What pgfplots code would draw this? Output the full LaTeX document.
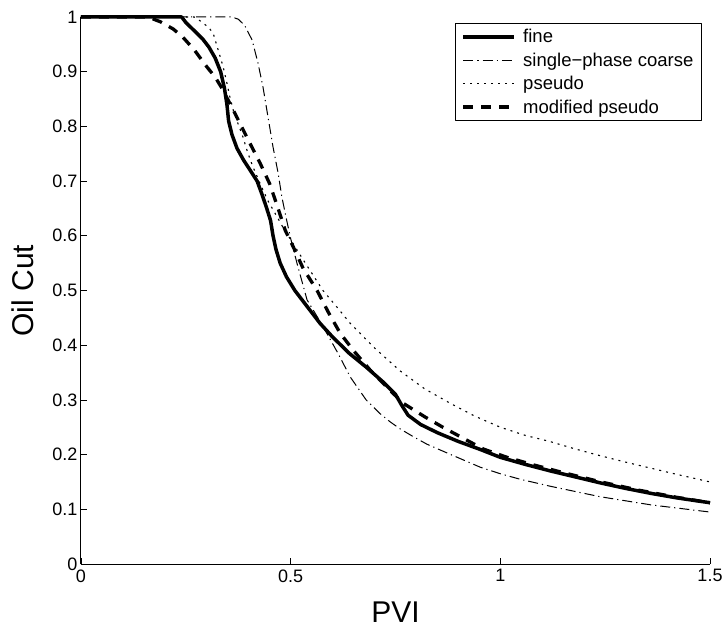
\documentclass[border=0pt]{standalone}
\usepackage{fontspec}
\setmainfont{Liberation Sans}
\usepackage{pgfplots}
\pgfplotsset{compat=1.18}
\begin{document}
\begin{tikzpicture}[x=1pt,y=1pt]
\begin{axis}[
  at={(0,0)}, anchor=south west,
  scale only axis, width=629pt, height=547pt,
  xmin=0, xmax=1.5, ymin=0, ymax=1,
  axis x line*=bottom, axis y line*=left,
  axis line style={-, line width=1pt},
  tick align=inside, major tick length=6pt,
  tick style={line width=0.8pt, black},
  xtick={0,0.5,1,1.5}, xticklabels={0,0.5,1,1.5},
  ytick={0,0.1,0.2,0.3,0.4,0.5,0.6,0.7,0.8,0.9,1},
  yticklabels={0,0.1,0.2,0.3,0.4,0.5,0.6,0.7,0.8,0.9,1},
  ticklabel style={font=\fontsize{18}{20}\selectfont},
  xticklabel style={yshift=-2pt},
  xlabel={PVI}, ylabel={Oil Cut},
  label style={font=\fontsize{30}{33}\selectfont},
  xlabel style={at={(axis description cs:0.5,-0.0878)}, anchor=center},
  ylabel style={at={(axis description cs:-0.0922,0.5)}, anchor=center, rotate=0},
  legend style={at={(rel axis cs:0.987,0.989)}, anchor=north east, draw=black, line width=0.8pt,
    font=\fontsize{18.5}{21}\selectfont, inner xsep=6pt, inner ysep=4pt, row sep=4.5pt,
    cells={anchor=west}},
  legend image code/.code={\draw[#1] (0pt,0pt) -- (51pt,0pt);},
  line join=round,
  clip=false,
]
\coordinate (O) at (rel axis cs:0,0);
\addplot[black, line width=3.5pt] coordinates {
(0,1)(0.24,1)(0.25,0.99)(0.27,0.975)(0.29,0.96)(0.305,0.945)(0.32,0.925)(0.333,0.9)(0.342,0.87)(0.348,0.84)(0.352,0.81)(0.36,0.785)(0.372,0.76)(0.388,0.738)(0.405,0.718)(0.42,0.70)(0.432,0.675)(0.443,0.65)(0.452,0.628)(0.458,0.60)(0.465,0.575)(0.475,0.55)(0.49,0.525)(0.51,0.50)(0.54,0.47)(0.57,0.44)(0.60,0.415)(0.64,0.385)(0.68,0.36)(0.72,0.333)(0.75,0.31)(0.765,0.29)(0.78,0.272)(0.81,0.255)(0.85,0.24)(0.90,0.224)(0.95,0.21)(1.0,0.195)(1.06,0.182)(1.12,0.17)(1.18,0.159)(1.24,0.148)(1.30,0.138)(1.36,0.129)(1.42,0.121)(1.5,0.112)};
\addlegendentry{\hspace{5pt}fine}
\addplot[black, line width=1pt, dash pattern=on 10pt off 4pt on 1.2pt off 4pt] coordinates {
(0,1)(0.36,1)(0.375,0.996)(0.39,0.985)(0.408,0.958)(0.422,0.916)(0.434,0.872)(0.446,0.817)(0.458,0.762)(0.47,0.715)(0.479,0.671)(0.49,0.63)(0.50,0.595)(0.515,0.55)(0.539,0.483)(0.565,0.45)(0.586,0.422)(0.613,0.385)(0.642,0.342)(0.68,0.30)(0.713,0.275)(0.737,0.26)(0.761,0.247)(0.792,0.233)(0.825,0.219)(0.873,0.203)(0.952,0.177)(1.0,0.165)(1.047,0.155)(1.12,0.142)(1.238,0.123)(1.36,0.108)(1.5,0.095)};
\addlegendentry{\hspace{5pt}single\symbol{"2212}phase coarse}
\addplot[black, line width=1.1pt, dash pattern=on 2pt off 5pt] coordinates {
(0,1)(0.27,1)(0.29,0.99)(0.305,0.98)(0.315,0.971)(0.327,0.94)(0.339,0.909)(0.348,0.879)(0.355,0.854)(0.363,0.83)(0.374,0.806)(0.386,0.781)(0.398,0.751)(0.41,0.726)(0.427,0.696)(0.445,0.665)(0.46,0.645)(0.482,0.615)(0.53,0.556)(0.577,0.50)(0.61,0.47)(0.642,0.44)(0.70,0.395)(0.761,0.353)(0.82,0.32)(0.88,0.294)(0.94,0.27)(1.0,0.25)(1.06,0.235)(1.118,0.224)(1.18,0.21)(1.238,0.198)(1.30,0.186)(1.36,0.175)(1.42,0.164)(1.5,0.150)};
\addlegendentry{\hspace{5pt}pseudo}
\addplot[black, line width=3.3pt, dash pattern=on 10pt off 8pt] coordinates {
(0,1)(0.16,1)(0.19,0.991)(0.22,0.978)(0.243,0.963)(0.27,0.94)(0.30,0.909)(0.32,0.89)(0.336,0.87)(0.363,0.83)(0.395,0.781)(0.427,0.733)(0.45,0.695)(0.47,0.65)(0.487,0.61)(0.506,0.58)(0.53,0.54)(0.563,0.50)(0.59,0.46)(0.618,0.422)(0.65,0.39)(0.689,0.355)(0.73,0.323)(0.768,0.294)(0.82,0.269)(0.863,0.25)(0.916,0.228)(0.96,0.21)(1.016,0.195)(1.08,0.181)(1.15,0.167)(1.24,0.150)(1.33,0.135)(1.42,0.122)(1.5,0.112)};
\addlegendentry{\hspace{5pt}modified pseudo}
\end{axis}
\pgfresetboundingbox
\path (O) ++(-81pt,-65pt) rectangle ++(725pt,629pt);
\end{tikzpicture}
\end{document}
